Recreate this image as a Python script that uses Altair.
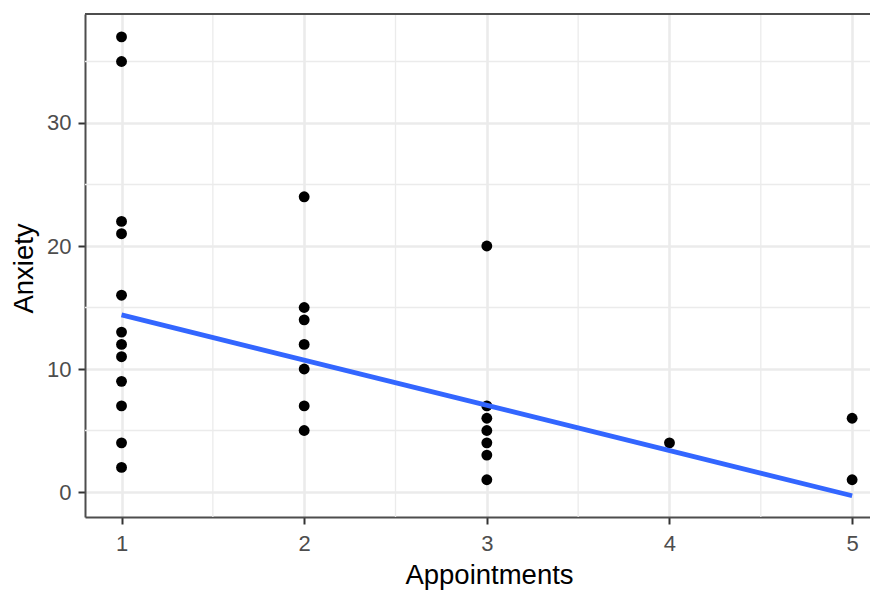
import altair as alt
import pandas as pd

# ---- data ----
appointments = [1] * 12 + [2] * 7 + [3] * 7 + [4] + [5] * 2
anxiety = [37, 35, 22, 21, 16, 13, 12, 11, 9, 7, 4, 2,
           24, 15, 14, 12, 10, 7, 5,
           20, 7, 6, 5, 4, 3, 1,
           4,
           6, 1]
fit_x = [1, 5]
fit_y = [14.4, -0.3]
x_ticks = [1, 2, 3, 4, 5]
y_ticks = [0, 10, 20, 30]
x_minor = [1.5, 2.5, 3.5, 4.5]
y_minor = [5, 15, 25, 35]

W, H = 785, 503
FONT = "Liberation Sans"
GRID = "#EBEBEB"
BORDER = "#4d4d4d"

pts = pd.DataFrame({"Appointments": appointments, "Anxiety": anxiety})
fit = pd.DataFrame({"Appointments": fit_x, "Anxiety": fit_y})
xm = pd.DataFrame({"Appointments": x_minor})
ym = pd.DataFrame({"Anxiety": y_minor})

xs = alt.Scale(domain=[0.8, 0.8 + W / 182.65], nice=False, zero=False)
ys = alt.Scale(domain=[-2.03, 38.86], nice=False, zero=False)

xaxis = alt.Axis(values=x_ticks, grid=True, gridColor=GRID, gridWidth=2.6,
                 domainColor=BORDER, domainWidth=2, tickColor="#333333",
                 tickWidth=2, tickSize=7, labelFont=FONT, labelFontSize=22,
                 labelColor="#4D4D4D", labelBaseline="alphabetic", labelPadding=26,
                 title="Appointments", titleFont=FONT, titleFontSize=27.5,
                 titleFontWeight="normal", titleColor="black", titleX=404,
                 titleY=66, titleBaseline="alphabetic", titleAlign="center")
yaxis = alt.Axis(values=y_ticks, grid=True, gridColor=GRID, gridWidth=2.6,
                 domainColor=BORDER, domainWidth=2, tickColor="#333333",
                 tickWidth=2, tickSize=7, labelFont=FONT, labelFontSize=22,
                 labelColor="#4D4D4D", labelPadding=7,
                 title="Anxiety", titleFont=FONT, titleFontSize=27.5,
                 titleFontWeight="normal", titleColor="black", titleX=-53,
                 titleY=254, titleAngle=270, titleBaseline="alphabetic",
                 titleAlign="center")

minor_x = alt.Chart(xm).mark_rule(color=GRID, strokeWidth=1.3).encode(
    x=alt.X("Appointments:Q", scale=xs, axis=xaxis))
minor_y = alt.Chart(ym).mark_rule(color=GRID, strokeWidth=1.3).encode(
    y=alt.Y("Anxiety:Q", scale=ys, axis=yaxis))
top_border = alt.Chart(ym).mark_rule(color=BORDER, strokeWidth=2).encode(
    x=alt.value(0), x2=alt.value(W), y=alt.value(0))
points = alt.Chart(pts).mark_circle(color="black", opacity=1, size=118).encode(
    x=alt.X("Appointments:Q", scale=xs, axis=xaxis),
    y=alt.Y("Anxiety:Q", scale=ys, axis=yaxis))
line = alt.Chart(fit).mark_line(color="#3366FF", strokeWidth=4.8).encode(
    x=alt.X("Appointments:Q", scale=xs, axis=xaxis),
    y=alt.Y("Anxiety:Q", scale=ys, axis=yaxis))

chart = alt.layer(minor_x, minor_y, points, line, top_border).properties(
    width=W, height=H,
    autosize=alt.AutoSizeParams(type="none"),
    padding={"left": 77, "top": 6, "right": 0, "bottom": 73},
).configure_view(stroke=None)

chart.save("out.html", embed_options={"renderer": "svg", "actions": False})
